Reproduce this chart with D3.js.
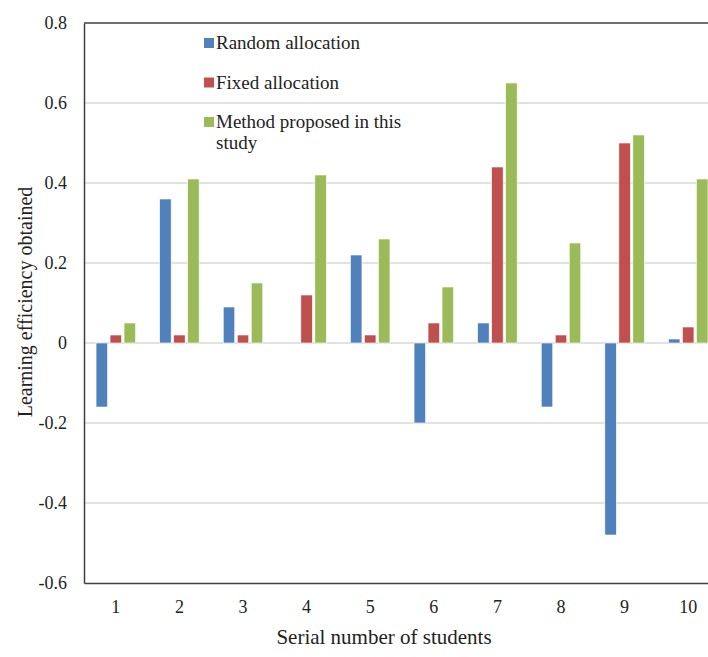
<!DOCTYPE html>
<html>
<head>
<meta charset="utf-8">
<script src="https://cdn.jsdelivr.net/npm/d3@7"></script>
<style>
  body { margin: 0; background: #fff; }
  text { font-family: "Liberation Serif", "DejaVu Serif", serif; }
</style>
</head>
<body>
<div id="chart"></div>
<script>
const WIDTH = 708;
const HEIGHT = 657;

const students = ['1', '2', '3', '4', '5', '6', '7', '8', '9', '10'];
const seriesNames = ['Random allocation', 'Fixed allocation', 'Method proposed in this study'];
const colors = ['#4f81bd', '#c0504d', '#9bbb59'];

const randomAlloc = [-0.16, 0.36, 0.09, 0, 0.22, -0.2, 0.05, -0.16, -0.48, 0.01];
const fixedAlloc = [0.02, 0.02, 0.02, 0.12, 0.02, 0.05, 0.44, 0.02, 0.5, 0.04];
const proposed = [0.05, 0.41, 0.15, 0.42, 0.26, 0.14, 0.65, 0.25, 0.52, 0.41];

const yTicks = [-0.6, -0.4, -0.2, 0, 0.2, 0.4, 0.6, 0.8];

const rows = students.map((s, i) => ({
  key: s,
  values: [randomAlloc[i], fixedAlloc[i], proposed[i]]
}));

const xScale = d3.scaleBand()
  .domain(students)
  .range([84, 720]);

const yScale = d3.scaleLinear()
  .domain([-0.6, 0.8])
  .range([583, 23]);

const barStep = 14;
const barWidth = 11.5;

const svg = d3.select('#chart')
  .append('svg')
  .attr('width', WIDTH)
  .attr('height', HEIGHT)
  .style('display', 'block');

// gridlines
svg.append('g')
  .selectAll('line')
  .data(yTicks.filter(t => t > -0.6 && t < 0.8))
  .enter()
  .append('line')
  .attr('x1', 84)
  .attr('x2', 720)
  .attr('y1', d => yScale(d))
  .attr('y2', d => yScale(d))
  .attr('stroke', '#d9d9d9')
  .attr('stroke-width', 1.5);

// bars
const groups = svg.append('g')
  .selectAll('g')
  .data(rows)
  .enter()
  .append('g')
  .attr('transform', d => `translate(${xScale(d.key) + xScale.bandwidth() / 2}, 0)`);

groups.selectAll('rect')
  .data(d => d.values)
  .enter()
  .append('rect')
  .attr('x', (v, i) => (i - 1) * barStep - barWidth / 2)
  .attr('y', v => yScale(Math.max(0, v)))
  .attr('width', barWidth)
  .attr('height', v => Math.abs(yScale(v) - yScale(0)))
  .attr('fill', (v, i) => colors[i])
  .attr('stroke', '#fff')
  .attr('stroke-width', 0.6);

// y axis (hyphen minus like the original)
const yAxis = svg.append('g')
  .attr('transform', 'translate(84,0)')
  .call(d3.axisLeft(yScale).tickValues(yTicks).tickSize(0).tickPadding(17)
    .tickFormat(d => d === 0 ? '0' : d.toFixed(1)));
yAxis.select('.domain').attr('stroke', '#404040').attr('stroke-width', 1.5);
yAxis.selectAll('text').attr('font-size', 18).attr('fill', '#222');

// top border
svg.append('line')
  .attr('x1', 84).attr('x2', 720)
  .attr('y1', yScale(0.8)).attr('y2', yScale(0.8))
  .attr('stroke', '#404040')
  .attr('stroke-width', 1.5);

// x axis
const xAxis = svg.append('g')
  .attr('transform', `translate(0,${yScale(-0.6)})`)
  .call(d3.axisBottom(xScale).tickSize(0).tickPadding(17));
xAxis.select('.domain').attr('stroke', '#404040').attr('stroke-width', 1.5);
xAxis.selectAll('text').attr('font-size', 18).attr('fill', '#222');

// axis titles
svg.append('text')
  .attr('transform', 'translate(32,302) rotate(-90)')
  .attr('text-anchor', 'middle')
  .attr('font-size', 20)
  .attr('fill', '#222')
  .text('Learning efficiency obtained');

svg.append('text')
  .attr('x', 384)
  .attr('y', 644)
  .attr('text-anchor', 'middle')
  .attr('font-size', 21)
  .attr('fill', '#222')
  .text('Serial number of students');

// legend
const legendLines = [['Random allocation'], ['Fixed allocation'], ['Method proposed in this', 'study']];
const legend = svg.append('g')
  .selectAll('g')
  .data(seriesNames)
  .enter()
  .append('g')
  .attr('transform', (d, i) => `translate(204, ${43 + i * 39.5})`);

legend.append('rect')
  .attr('x', 0)
  .attr('y', -5)
  .attr('width', 10)
  .attr('height', 10)
  .attr('fill', (d, i) => colors[i]);

legend.append('text')
  .attr('x', 12)
  .attr('y', 6)
  .attr('font-size', 19)
  .attr('fill', '#222')
  .selectAll('tspan')
  .data((d, i) => legendLines[i])
  .enter()
  .append('tspan')
  .attr('x', 12)
  .attr('dy', (d, j) => j === 0 ? 0 : 21)
  .text(d => d);
</script>
</body>
</html>
